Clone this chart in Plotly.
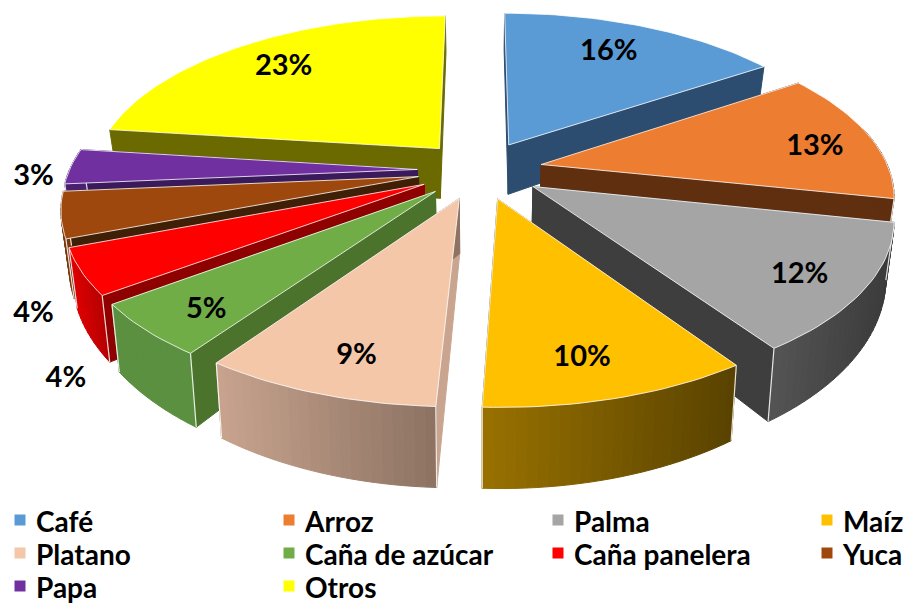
import math
import plotly.graph_objects as go

categories = ["Café", "Arroz", "Palma", "Maíz", "Platano", "Caña de azúcar", "Caña panelera", "Yuca", "Papa", "Otros"]
values = [15.6, 12.7, 12.2, 10.2, 9.0, 5.1, 4.4, 4.4, 3.4, 23.0]
top_colors = ["#5B9BD5", "#ED7D31", "#A5A5A5", "#FFC000", "#F4C7A9", "#70AD47", "#FF0000", "#9E480E", "#7030A0", "#FFFF00"]
wall_left = ["#2C4D70", "#5F2F10", "#4A4A4A", "#9A7200", "#C9A590", "#4C732C", "#8F0000", "#3F2007", "#3A1A5A", "#6A6A00"]
wall_right = ["#2C4D70", "#5F2F10", "#3E3E3E", "#5A4300", "#8E7363", "#4C732C", "#8F0000", "#3F2007", "#3A1A5A", "#6A6A00"]
outer_a = ["#2C4D70", "#5F2F10", "#3A3A3A", "#5A4300", "#8E7363", "#5B9040", "#B80000", "#7A3A0C", "#4A2070", "#6A6A00"]
outer_b = ["#2C4D70", "#5F2F10", "#555555", "#9A7200", "#C9A590", "#5B9040", "#E00000", "#7A3A0C", "#4A2070", "#6A6A00"]
label_nudge = [(4, -8), (49, 4), (49, 21), (7, 33), (-12, 34), (-41, 29), (-132, 138), (-145, 112), (-148, 10), (-18, -8)]
legend_cols = [20, 289, 558, 827]
legend_rows = [520, 553, 586]

CX, CY, A, B, P, E, D = 480, 170, 348, 162, 0.17, 0.18, 52


def project(u, v, low=False):
    k = 1 / (1 + P * v)
    x, y = CX + u * A * k, CY - v * B * k
    if low:
        x = CX + (x - CX) * 0.98
        y = y + D * k * k
    return x, y


def hexmix(a, b, t):
    ca = [int(a[i:i + 2], 16) for i in (1, 3, 5)]
    cb = [int(b[i:i + 2], 16) for i in (1, 3, 5)]
    return "rgb(%d,%d,%d)" % tuple(round(p + (q - p) * t) for p, q in zip(ca, cb))


fig = go.Figure()


def poly(pts, color, edge=None, width=1.0):
    fig.add_trace(go.Scatter(
        x=[p[0] for p in pts] + [pts[0][0]], y=[p[1] for p in pts] + [pts[0][1]],
        mode="lines", fill="toself", fillcolor=color, line=dict(color=edge or color, width=width),
        hoverinfo="skip", showlegend=False))


def edge_line(p, q):
    fig.add_trace(go.Scatter(x=[p[0], q[0]], y=[p[1], q[1]], mode="lines",
                             line=dict(color="rgba(255,255,255,0.85)", width=1.2),
                             hoverinfo="skip", showlegend=False))


total = sum(values)
slices = []
start = 0
for i, val in enumerate(values):
    a0 = start / total * 2 * math.pi
    a1 = (start + val) / total * 2 * math.pi
    start += val
    slices.append((i, a0, a1, (a0 + a1) / 2))

label_pts = []
for i, a0, a1, mid in sorted(slices, key=lambda s: -math.cos(s[3])):
    ox, oy = E * math.sin(mid), E * math.cos(mid)
    n = max(6, int((a1 - a0) * 40))
    arc = [(ox + math.sin(a0 + (a1 - a0) * j / n), oy + math.cos(a0 + (a1 - a0) * j / n)) for j in range(n + 1)]
    for uv, col in ((arc[0], wall_left[i]), (arc[-1], wall_right[i])):
        poly([project(ox, oy), project(*uv), project(*uv, low=True), project(ox, oy, low=True)], col)
    for j in range(n):
        p, q = arc[j], arc[j + 1]
        if q[1] <= 0.25 or p[1] <= 0.25:
            t = (project(*p)[0] - project(*arc[0])[0]) / ((project(*arc[-1])[0] - project(*arc[0])[0]) or 1)
            poly([project(*p), project(*q), project(*q, low=True), project(*p, low=True)],
                 hexmix(outer_a[i], outer_b[i], min(max(t, 0), 1)))
    for uv in (arc[0], arc[-1]):
        if uv[1] <= 0.25:
            edge_line(project(*uv), project(*uv, low=True))
    poly([project(ox, oy)] + [project(*uv) for uv in arc], top_colors[i],
         edge="rgba(255,255,255,0.8)", width=1.0)
    lx, ly = project(ox + 0.68 * math.sin(mid), oy + 0.68 * math.cos(mid))
    label_pts.append((i, lx, ly))

label_pts.sort()
fig.add_trace(go.Scatter(
    x=[p[1] + label_nudge[p[0]][0] for p in label_pts],
    y=[p[2] + label_nudge[p[0]][1] for p in label_pts],
    text=["%.0f%%" % values[p[0]] for p in label_pts], mode="text",
    textfont=dict(family="Lato", size=29, color="black", weight="bold"),
    hoverinfo="skip", showlegend=False))

for idx, (name, col) in enumerate(zip(categories, top_colors)):
    lx = legend_cols[idx % 4]
    ly = legend_rows[idx // 4]
    fig.add_trace(go.Scatter(x=[lx], y=[ly], mode="markers", name=name, showlegend=False,
                             marker=dict(symbol="square", size=11, color=col, line=dict(width=0)),
                             hoverinfo="name"))
    fig.add_trace(go.Scatter(x=[lx + 16], y=[ly + 5], mode="text", text=[name], textposition="middle right",
                             textfont=dict(family="Lato", size=28, color="black", weight="bold"),
                             hoverinfo="skip", showlegend=False, cliponaxis=False))

fig.update_layout(
    width=906, height=603, margin=dict(l=0, r=0, t=0, b=0),
    paper_bgcolor="white", plot_bgcolor="white", showlegend=False,
    xaxis=dict(range=[0, 906], visible=False, fixedrange=True),
    yaxis=dict(range=[603, 0], visible=False, fixedrange=True),
)
fig.write_html("out.html", config={"displayModeBar": False},
               post_script="document.body.style.margin='0';document.body.style.overflow='hidden';")
